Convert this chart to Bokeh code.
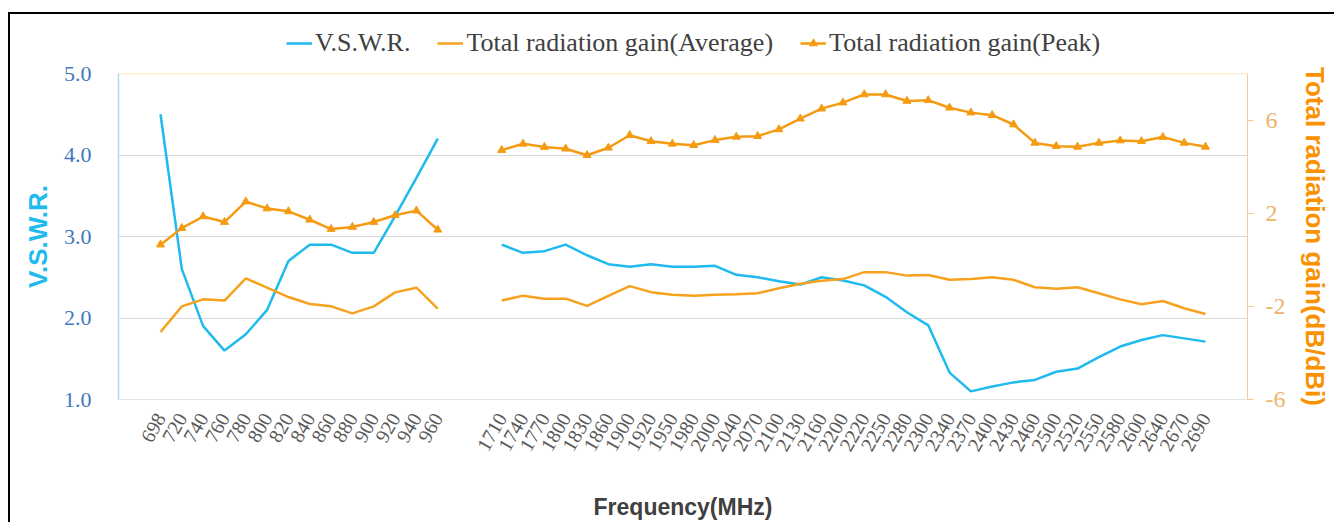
from bokeh.plotting import figure
from bokeh.layouts import column
from bokeh.models import (Range1d, LinearAxis, FixedTicker, Legend, LegendItem,
                          Span, PrintfTickFormatter)
from bokeh.embed import file_html
from bokeh.resources import INLINE

# ---- data ----
freq_low = [698, 720, 740, 760, 780, 800, 820, 840, 860, 880, 900, 920, 940, 960]
freq_high = [1710, 1740, 1770, 1800, 1830, 1860, 1900, 1920, 1950, 1980, 2000, 2040,
             2070, 2100, 2130, 2160, 2200, 2220, 2250, 2280, 2300, 2340, 2370, 2400,
             2430, 2460, 2500, 2520, 2550, 2580, 2600, 2640, 2670, 2690]

vswr_low = [4.5, 2.6, 1.9, 1.6, 1.8, 2.1, 2.7, 2.9, 2.9, 2.8, 2.8, 3.25, 3.72, 4.2]
vswr_high = [2.9, 2.8, 2.82, 2.9, 2.77, 2.66, 2.63, 2.66, 2.63, 2.63, 2.64, 2.53,
             2.5, 2.45, 2.41, 2.5, 2.46, 2.4, 2.26, 2.07, 1.91, 1.33, 1.1, 1.16,
             1.21, 1.24, 1.34, 1.38, 1.52, 1.65, 1.73, 1.79, 1.75, 1.71]

avg_low = [-3.1, -2.0, -1.7, -1.75, -0.8, -1.2, -1.6, -1.9, -2.0, -2.3, -2.0, -1.4, -1.2, -2.1]
avg_high = [-1.75, -1.54, -1.67, -1.67, -1.98, -1.55, -1.13, -1.39, -1.5, -1.54, -1.5, -1.48,
            -1.44, -1.22, -1.03, -0.9, -0.83, -0.53, -0.53, -0.68, -0.65, -0.86, -0.83, -0.75,
            -0.86, -1.18, -1.24, -1.18, -1.44, -1.7, -1.91, -1.77, -2.08, -2.33]

peak_low = [0.65, 1.36, 1.86, 1.62, 2.5, 2.2, 2.08, 1.72, 1.32, 1.41, 1.62, 1.91, 2.11, 1.29]
peak_high = [4.71, 4.98, 4.84, 4.77, 4.49, 4.81, 5.35, 5.09, 4.98, 4.92, 5.14, 5.28,
             5.31, 5.6, 6.06, 6.49, 6.75, 7.1, 7.1, 6.82, 6.85, 6.53, 6.32, 6.21,
             5.81, 5.02, 4.88, 4.85, 5.02, 5.12, 5.09, 5.27, 5.02, 4.85]

series_names = ["V.S.W.R.", "Total radiation gain(Average)", "Total radiation gain(Peak)"]
vswr_ticks = [1, 2, 3, 4, 5]
gain_ticks = [-6, -2, 2, 6]

# ---- positions (category index, with two empty slots between bands) ----
GAP = 2
x_low = list(range(len(freq_low)))
x_high = [len(freq_low) + GAP + i for i in range(len(freq_high))]
n_total = len(freq_low) + GAP + len(freq_high)

C_VSWR = "#1FBAEE"
C_AVG = "#F7A21E"
C_PEAK = "#F59B12"

p = figure(width=1326, height=466,
           min_border_left=108, min_border_top=15, min_border_right=89, min_border_bottom=125,
           x_range=Range1d(-1.97, n_total - 1 + 1.97), y_range=Range1d(1, 5),
           output_backend="svg", toolbar_location=None)
p.outline_line_color = None
p.background_fill_color = "white"
p.border_fill_color = "white"

# left axis
la = p.yaxis[0]
la.ticker = FixedTicker(ticks=vswr_ticks)
la.formatter = PrintfTickFormatter(format="%.1f")
la.major_tick_line_color = None
la.minor_tick_line_color = None
la.axis_line_color = "#ABDCEC"
la.axis_line_width = 1.5
la.major_label_text_font = "Liberation Serif"
la.major_label_text_font_size = "22px"
la.major_label_text_color = "#3F78BC"
la.major_label_standoff = 21
la.axis_label = series_names[0]
la.axis_label_text_font = "Liberation Sans"
la.axis_label_text_font_style = "bold"
la.axis_label_text_font_size = "26px"
la.axis_label_text_color = C_VSWR
la.axis_label_standoff = 8

# x axis
xa = p.xaxis[0]
xa.ticker = FixedTicker(ticks=x_low + x_high)
xa.major_label_overrides = {x: str(f) for x, f in zip(x_low + x_high, freq_low + freq_high)}
xa.major_label_orientation = 1.05
xa.major_tick_line_color = None
xa.minor_tick_line_color = None
xa.axis_line_color = "#DCE6EA"
xa.major_label_text_font = "Liberation Serif"
xa.major_label_text_font_size = "20px"
xa.major_label_text_color = "#595959"
xa.major_label_standoff = 9
xa.axis_label = "Frequency(MHz)"
xa.axis_label_text_font = "Liberation Sans"
xa.axis_label_text_font_style = "bold"
xa.axis_label_text_font_size = "23px"
xa.axis_label_text_color = "#404040"
xa.axis_label_standoff = 35

# right axis
p.extra_y_ranges = {"gain": Range1d(-6, 8)}
ra = LinearAxis(y_range_name="gain", ticker=FixedTicker(ticks=gain_ticks),
                formatter=PrintfTickFormatter(format="%d"))
ra.axis_line_color = "#F4CB91"
ra.major_tick_line_color = "#F4CB91"
ra.major_tick_out = 6
ra.major_tick_in = 0
ra.minor_tick_line_color = None
ra.major_label_text_font = "Liberation Serif"
ra.major_label_text_font_size = "24px"
ra.major_label_text_color = "#EDB46C"
ra.major_label_standoff = 12
ra.axis_label = "Total radiation gain(dB/dBi)"
ra.axis_label_text_font = "Liberation Sans"
ra.axis_label_text_font_style = "bold"
ra.axis_label_text_font_size = "26px"
ra.axis_label_text_color = "#FA9200"
ra.axis_label_standoff = 12
p.add_layout(ra, "right")

# grid
p.xgrid.visible = False
p.ygrid.ticker = FixedTicker(ticks=[2, 3, 4])
p.ygrid.grid_line_color = "#D9D9D9"
p.ygrid.grid_line_width = 1.2
p.add_layout(Span(location=5, dimension="width", line_color="#F5DE9E", line_width=1.5))

# series
p.line(x_low, vswr_low, line_color=C_VSWR, line_width=2.5)
p.line(x_high, vswr_high, line_color=C_VSWR, line_width=2.5)
p.line(x_low, avg_low, line_color=C_AVG, line_width=2.5, y_range_name="gain")
p.line(x_high, avg_high, line_color=C_AVG, line_width=2.5, y_range_name="gain")
p.line(x_low, peak_low, line_color=C_PEAK, line_width=2.5, y_range_name="gain")
p.line(x_high, peak_high, line_color=C_PEAK, line_width=2.5, y_range_name="gain")
p.scatter(x_low, peak_low, marker="triangle", size=8, fill_color=C_PEAK,
          line_color=C_PEAK, y_range_name="gain")
p.scatter(x_high, peak_high, marker="triangle", size=8, fill_color=C_PEAK,
          line_color=C_PEAK, y_range_name="gain")

# ---- legend strip above the plot (own small figure so it is not clipped) ----
lg = figure(width=1326, height=44, min_border=0, x_range=Range1d(0, 1), y_range=Range1d(0, 1),
            output_backend="svg", toolbar_location=None)
lg.axis.visible = False
lg.grid.visible = False
lg.outline_line_color = None
lg.border_fill_color = "white"
r_v = lg.line(x_low, vswr_low, line_color=C_VSWR, line_width=2.5, visible=False)
r_a = lg.line(x_low, avg_low, line_color=C_AVG, line_width=2.5, visible=False)
r_k = lg.line(x_low, peak_low, line_color=C_PEAK, line_width=2.5, visible=False)
r_m = lg.scatter(x_low, peak_low, marker="triangle", size=8, fill_color=C_PEAK,
                 line_color=C_PEAK, visible=False)
legend = Legend(items=[
    LegendItem(label=series_names[0], renderers=[r_v]),
    LegendItem(label=series_names[1], renderers=[r_a]),
    LegendItem(label=series_names[2], renderers=[r_k, r_m]),
], orientation="horizontal", location=(168, 0))
legend.label_text_font = "Liberation Serif"
legend.label_text_font_size = "26px"
legend.label_text_color = "#404040"
legend.glyph_width = 26
legend.spacing = 27
legend.label_standoff = 3
legend.border_line_color = None
legend.background_fill_alpha = 0
legend.inactive_fill_alpha = 0
legend.margin = 0
legend.padding = 0
lg.add_layout(legend, "center")

layout = column(lg, p, spacing=0,
                styles={"margin-left": "10px", "margin-top": "14px",
                        "box-shadow": "-2px -2px 0 0 #000000"})

open("out.html", "w").write(file_html(layout, INLINE))
